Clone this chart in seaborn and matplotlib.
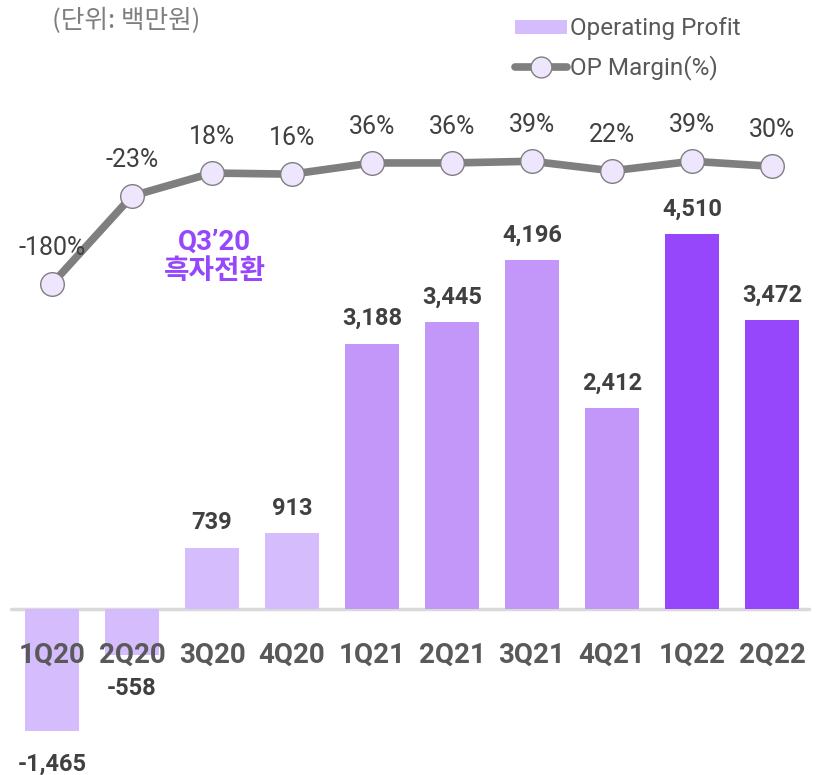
import matplotlib
matplotlib.use('Agg')
import matplotlib.pyplot as plt
import seaborn as sns
import pandas as pd
from matplotlib.patches import Patch
from matplotlib.lines import Line2D

quarters = ['1Q20', '2Q20', '3Q20', '4Q20', '1Q21', '2Q21', '3Q21', '4Q21', '1Q22', '2Q22']
op_profit = [-1465, -558, 739, 913, 3188, 3445, 4196, 2412, 4510, 3472]
op_margin = [-180, -23, 18, 16, 36, 36, 39, 22, 39, 30]
bar_colors = ['#D5BCFC'] * 4 + ['#C396FA'] * 4 + ['#9646FB'] * 2

sns.set_theme(style='white')
plt.rcParams['font.family'] = ['Roboto', 'Noto Sans CJK KR', 'DejaVu Sans']

df = pd.DataFrame({'quarter': quarters, 'profit': op_profit, 'margin': op_margin})

fig = plt.figure(figsize=(8.17, 7.75), dpi=100)
ax = fig.add_axes([0, 0, 1, 1])
sns.barplot(data=df, x='quarter', y='profit', hue='quarter', palette=bar_colors,
            width=0.67, legend=False, saturation=1, linewidth=0, edgecolor='none', ax=ax)
ax.set_xlim(-0.65, 9.5625)
ax.set_ylim(-1995, 7320)
ax.axhline(0, xmin=0.013, xmax=0.99, color='#D9D9D9', lw=2.5, zorder=0.5)
for s in ax.spines.values():
    s.set_visible(False)
ax.set_xticks([])
ax.set_yticks([])
ax.set_xlabel('')
ax.set_ylabel('')

# quarter labels
for i, q in enumerate(quarters):
    ax.annotate(q, (i, 0), xytext=(0, -33), textcoords='offset points',
                ha='center', va='center', fontsize=20, fontweight='bold', color='#595959')

# value labels
for i, v in enumerate(op_profit):
    if v >= 0:
        ax.annotate(f'{v:,}', (i, v), xytext=(0, 18), textcoords='offset points',
                    ha='center', va='center', fontsize=17, fontweight='bold', color='#404040')
    else:
        ax.annotate(f'{v:,}', (i, v), xytext=(0, -24), textcoords='offset points',
                    ha='center', va='center', fontsize=17, fontweight='bold', color='#404040')

ax2 = ax.twinx()
sns.lineplot(data=df, x='quarter', y='margin', color='#7F7F7F', lw=5.5, marker='o',
             markersize=17, markerfacecolor='#EEE6FD', markeredgecolor='#7F7F7F',
             markeredgewidth=1, ax=ax2, sort=False)
ax2.set_ylim(-1057, 327)
ax2.set_yticks([])
ax2.set_ylabel('')
ax2.set_xlabel('')
for s in ax2.spines.values():
    s.set_visible(False)
for i, m in enumerate(op_margin):
    ax2.annotate(f'{m}%', (i, m), xytext=(0, 26), textcoords='offset points',
                 ha='center', va='center', fontsize=18, color='#404040')

fig.text(0.155, 0.973, '(단위: 백만원)', ha='center', va='center', fontsize=18.5,
         color='#7F7F7F', family=['Noto Sans CJK KR', 'DejaVu Sans'])
fig.text(0.263, 0.688, 'Q3\u201920', ha='center', va='center', fontsize=20,
         fontweight='bold', color='#9646FB')
fig.text(0.263, 0.650, '흑자전환', ha='center', va='center', fontsize=20,
         fontweight='bold', color='#9646FB', family=['Noto Sans CJK KR', 'DejaVu Sans'])

handles = [Patch(facecolor='#D5BCFC', edgecolor='none'),
           Line2D([], [], color='#7F7F7F', lw=5.5, marker='o', markersize=15,
                  markerfacecolor='#EEE6FD', markeredgecolor='#7F7F7F', markeredgewidth=1)]
leg = fig.legend(handles, ['Operating Profit', 'OP Margin(%)'], loc='upper left',
                 bbox_to_anchor=(0.603, 1.006), frameon=False, fontsize=17.5,
                 handlelength=2.15, handleheight=0.5, handletextpad=0.15, labelspacing=0.62)
for t in leg.get_texts():
    t.set_color('#595959')

fig.savefig('out.png', dpi=100)
